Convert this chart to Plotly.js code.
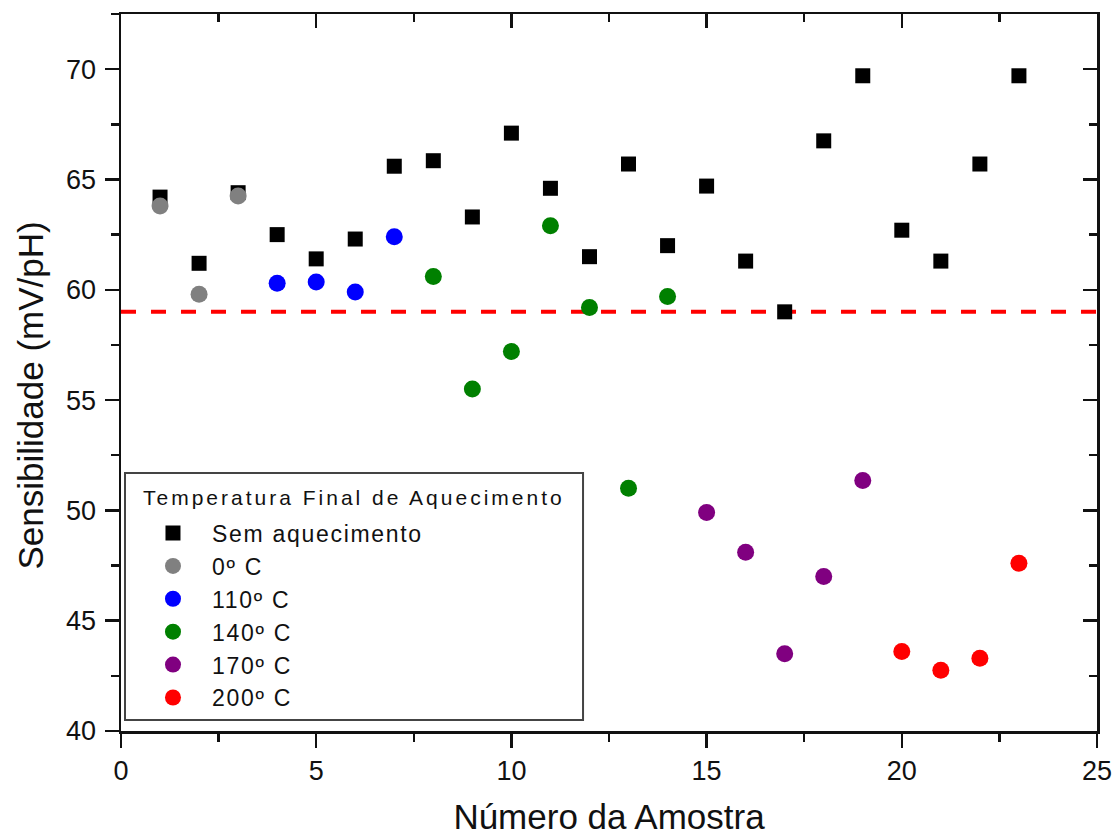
<!DOCTYPE html>
<html>
<head>
<meta charset="utf-8">
<script src="https://cdn.plot.ly/plotly-3.0.1.min.js"></script>
<style>
  html, body { margin: 0; padding: 0; background: #fff; }
  #chart { width: 1117px; height: 836px; }
  .annotation[data-index="0"] text { letter-spacing: 3px; }
  .legendtext { letter-spacing: 1.7px; }
</style>
</head>
<body>
<div id="chart"></div>
<script>
// Sensitivity (mV/pH) of each sample, grouped by final heating temperature
const amostrasSem = [1, 2, 3, 4, 5, 6, 7, 8, 9, 10, 11, 12, 13, 14, 15, 16, 17, 18, 19, 20, 21, 22, 23];
const semAquecimento = [64.2, 61.2, 64.4, 62.5, 61.4, 62.3, 65.6, 65.85, 63.3, 67.1, 64.6, 61.5,
                        65.7, 62.0, 64.7, 61.3, 59.0, 66.75, 69.7, 62.7, 61.3, 65.7, 69.7];

const amostras0 = [1, 2, 3];
const temp0 = [63.8, 59.8, 64.25];

const amostras110 = [4, 5, 6, 7];
const temp110 = [60.3, 60.35, 59.9, 62.4];

const amostras140 = [8, 9, 10, 11, 12, 13, 14];
const temp140 = [60.6, 55.5, 57.2, 62.9, 59.2, 51.0, 59.7];

const amostras170 = [15, 16, 17, 18, 19];
const temp170 = [49.9, 48.1, 43.5, 47.0, 51.35];

const amostras200 = [20, 21, 22, 23];
const temp200 = [43.6, 42.75, 43.3, 47.6];

// Nernst reference line
const referenciaX = [0, 25];
const referenciaY = [59, 59];

const xTicks = [0, 5, 10, 15, 20, 25];
const yTicks = [40, 45, 50, 55, 60, 65, 70];

const tituloLegenda = 'Temperatura Final de Aquecimento';
const tituloX = 'Número da Amostra';
const tituloY = 'Sensibilidade (mV/pH)';

const font = 'Liberation Sans, Arial, sans-serif';
const ink = '#111';

function grupo(name, x, y, color, symbol, size) {
  return {
    type: 'scatter', mode: 'markers', name: name, x: x, y: y,
    marker: { color: color, symbol: symbol, size: size, line: { width: 0 } }
  };
}

const traces = [
  {
    type: 'scatter', mode: 'lines', x: referenciaX, y: referenciaY,
    line: { color: '#ff0000', width: 4, dash: '15px,15px' },
    showlegend: false, hoverinfo: 'skip'
  },
  grupo('Sem aquecimento', amostrasSem, semAquecimento, '#000000', 'square', 15),
  grupo('0º C', amostras0, temp0, '#808080', 'circle', 17),
  grupo('110º C', amostras110, temp110, '#0000ff', 'circle', 17),
  grupo('140º C', amostras140, temp140, '#008000', 'circle', 17),
  grupo('170º C', amostras170, temp170, '#800080', 'circle', 17),
  grupo('200º C', amostras200, temp200, '#ff0000', 'circle', 17),
  // carrier for the top/right frame axes
  { type: 'scatter', mode: 'markers', x: [null], y: [null], xaxis: 'x2', yaxis: 'y2',
    showlegend: false, hoverinfo: 'skip' }
];

const axisCommon = {
  showline: true, linecolor: ink, linewidth: 2.5,
  showgrid: false, zeroline: false,
  tickcolor: ink, tickwidth: 2.5, ticklen: 14,
  tickfont: { family: font, size: 27, color: ink }
};

const layout = {
  width: 1117, height: 836,
  margin: { l: 121, r: 20, t: 14, b: 105 },
  paper_bgcolor: '#fff', plot_bgcolor: '#fff',
  font: { family: font, color: ink },
  xaxis: Object.assign({}, axisCommon, {
    range: [0, 25], tickmode: 'array', tickvals: xTicks, ticks: 'outside',
    minor: { dtick: 2.5, tick0: 0, ticks: 'outside', ticklen: 8, tickwidth: 2.5, tickcolor: ink },
    title: { text: tituloX, font: { family: font, size: 35, color: ink }, standoff: 24 }
  }),
  yaxis: Object.assign({}, axisCommon, {
    range: [40, 72.5], tickmode: 'array', tickvals: yTicks, ticks: 'outside',
    ticklabelstandoff: 3,
    minor: { dtick: 2.5, tick0: 40, ticks: 'outside', ticklen: 8, tickwidth: 2.5, tickcolor: ink }
  }),
  xaxis2: Object.assign({}, axisCommon, {
    overlaying: 'x', side: 'top', anchor: 'y2', range: [0, 25],
    tickmode: 'array', tickvals: xTicks, ticks: 'inside', showticklabels: false,
    minor: { dtick: 2.5, tick0: 0, ticks: 'inside', ticklen: 8, tickwidth: 2.5, tickcolor: ink }
  }),
  yaxis2: Object.assign({}, axisCommon, {
    overlaying: 'y', side: 'right', anchor: 'x2', range: [40, 72.5],
    tickmode: 'array', tickvals: yTicks, ticks: 'inside', showticklabels: false,
    minor: { dtick: 2.5, tick0: 40, ticks: 'inside', ticklen: 8, tickwidth: 2.5, tickcolor: ink }
  }),
  // legend frame
  shapes: [{
    type: 'rect', xref: 'paper', yref: 'paper',
    x0: 0.0041, x1: 0.4734, y0: 0.0153, y1: 0.3598,
    line: { color: '#444', width: 2 }, fillcolor: 'rgba(0,0,0,0)'
  }],
  annotations: [
    {
      text: tituloLegenda, xref: 'paper', yref: 'paper', x: 0.0205, y: 0.325,
      xanchor: 'left', yanchor: 'middle', align: 'left', showarrow: false,
      font: { family: font, size: 21, color: ink }
    },
    {
      text: tituloY, xref: 'paper', yref: 'paper', x: -0.0932, y: 0.468,
      xanchor: 'center', yanchor: 'middle', textangle: -90, showarrow: false,
      font: { family: font, size: 35, color: ink }
    }
  ],
  legend: {
    x: 0.0133, y: 0.3061, xanchor: 'left', yanchor: 'top',
    bgcolor: 'rgba(0,0,0,0)', borderwidth: 0,
    font: { family: font, size: 23, color: ink },
    itemwidth: 68, tracegroupgap: 0
  },
  showlegend: true
};

Plotly.newPlot('chart', traces, layout, { displayModeBar: false, staticPlot: true });
</script>
</body>
</html>
